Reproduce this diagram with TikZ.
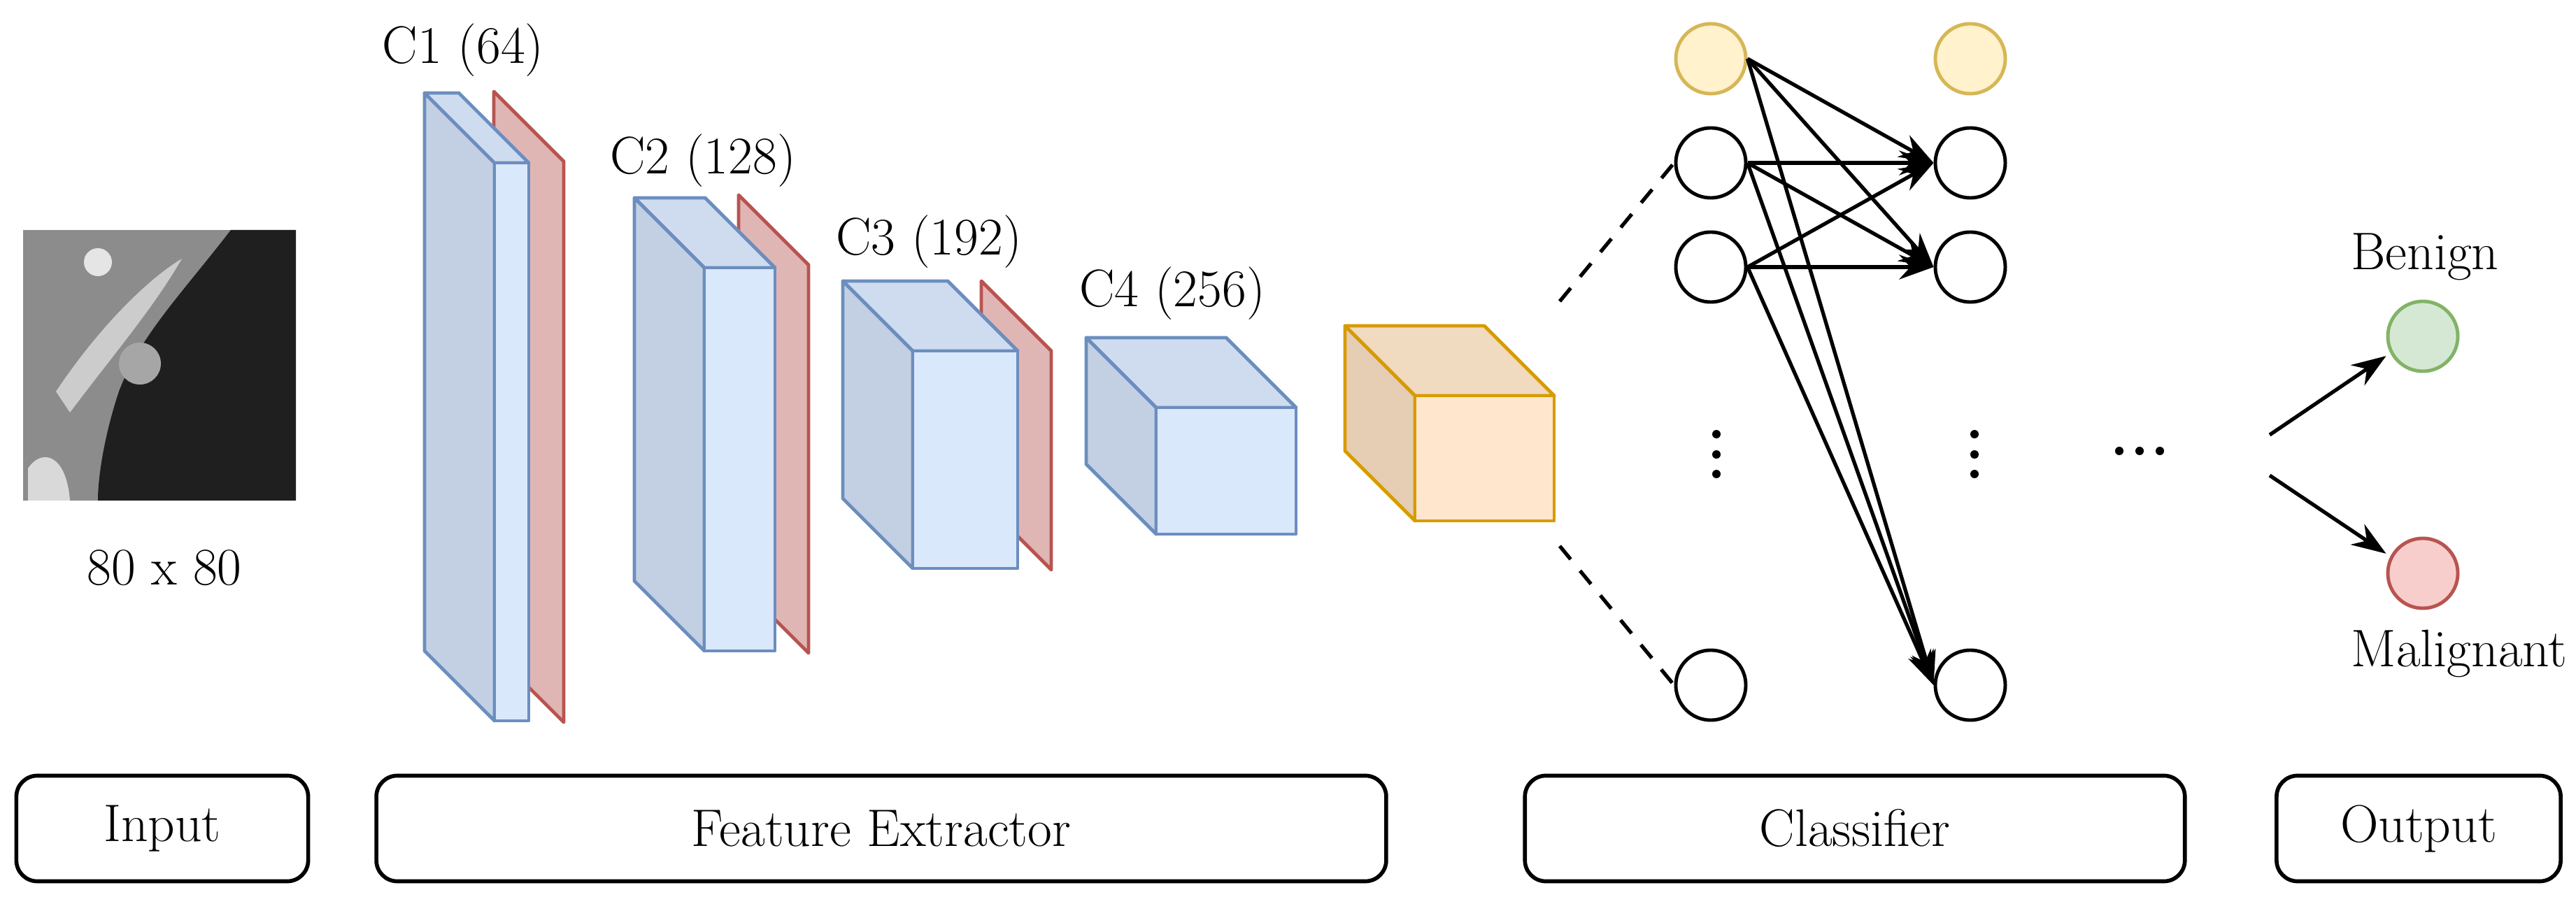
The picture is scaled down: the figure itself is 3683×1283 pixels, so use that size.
\documentclass[tikz,border=0pt]{standalone}
\usetikzlibrary{arrows.meta}
\definecolor{bfront}{HTML}{DAE8FC}\definecolor{bside}{HTML}{C3D0E3}\definecolor{btop}{HTML}{CFDCF0}\definecolor{bdraw}{HTML}{6C8EBF}
\definecolor{rfill}{HTML}{E0B6B5}\definecolor{rdraw}{HTML}{B85450}
\definecolor{ofront}{HTML}{FFE6CC}\definecolor{oside}{HTML}{E6CEB4}\definecolor{otop}{HTML}{F0DAC0}\definecolor{odraw}{HTML}{D79B00}
\definecolor{yfill}{HTML}{FFF2CC}\definecolor{ydraw}{HTML}{D6B656}
\definecolor{gfill}{HTML}{D5E8D4}\definecolor{gdraw}{HTML}{82B366}
\definecolor{pfill}{HTML}{F8CECC}
% box: bx, by, w, h, side, top, front, draw
\newcommand\cubeblk[8]{%
 \filldraw[fill=#5,draw=#8,line width=1.4pt,line join=round] (#1,#2)--++(100,100)--++(0,#4)--++(-100,-100)--cycle;
 \filldraw[fill=#6,draw=#8,line width=1.4pt,line join=round] (#1,#2)--++(#3,0)--++(100,100)--++(-#3,0)--cycle;
 \filldraw[fill=#7,draw=#8,line width=1.4pt,line join=round] (#1+100,#2+100) rectangle ++(#3,#4);}
\newcommand\redplane[3]{% fr, top, bottom(front)
 \filldraw[fill=rfill,draw=rdraw,line width=1.4pt,line join=round] (#1-50,#2)--++(100,100)--(#1+50,#3+3)--++(-100,-100)--cycle;}
\begin{document}
\begin{tikzpicture}[x=0.01cm,y=-0.01cm,font=\fontsize{21.5}{25}\selectfont,
 neuron/.style={circle,draw=black,line width=1.4pt,minimum size=1cm,inner sep=0pt},
 bias/.style={neuron,fill=yfill,draw=ydraw},
 stage/.style={draw,line width=1.6pt,rounded corners=0.3cm,inner sep=0pt,minimum height=1.51cm},
 conn/.style={line width=1.5pt,-{Stealth[length=14pt,width=10pt]}},
 dots/.style={line width=1.5pt,dashed,dash pattern=on 7pt off 6pt},
 dot/.style={circle,fill=black,inner sep=0pt,minimum size=0.12cm}]
\useasboundingbox (0,0) rectangle (3683,1283);
% input image (approximation)
\fill[black!45] (33,329) rectangle (423,716);
\fill[black!88] (423,329) -- (330,329) .. controls (260,420) and (200,480) .. (170,560) .. controls (150,620) and (140,680) .. (140,716) -- (423,716) -- cycle;
\fill[black!20] (80,560) .. controls (140,470) and (210,400) .. (260,370) .. controls (220,440) and (160,510) .. (100,590) -- cycle;
\fill[black!10] (140,375) circle (20);
\fill[black!35] (200,520) circle (30);
\fill[black!15] (40,716) -- (40,670) .. controls (60,640) and (95,650) .. (100,716) -- cycle;
\node (img) at (228,522) [minimum width=3.9cm,minimum height=3.87cm] {};
\node (isz) at (235,812) {80 x 80};
% feature extractor
\redplane{756}{131}{1030}
\cubeblk{607}{133}{49}{798}{bside}{btop}{bfront}{bdraw}
\redplane{1106}{279}{931}
\cubeblk{907}{283}{101}{548}{bside}{btop}{bfront}{bdraw}
\redplane{1453}{402}{812}
\cubeblk{1205}{402}{150}{311}{bside}{btop}{bfront}{bdraw}
\cubeblk{1553}{483}{200}{181}{bside}{btop}{bfront}{bdraw}
\cubeblk{1923}{466}{199}{179}{oside}{otop}{ofront}{odraw}
\node (c1) at (662,72) {C1 (64)};
\node (c2) at (1005,230) {C2 (128)};
\node (c3) at (1328,346) {C3 (192)};
\node (c4) at (1676,420) {C4 (256)};
% classifier
\node[bias] (b1) at (2446,84) {};
\node[neuron] (a1) at (2446,233) {};
\node[neuron] (a2) at (2446,382) {};
\node[neuron] (an) at (2446,980) {};
\node[bias] (b2) at (2817,84) {};
\node[neuron] (h1) at (2817,233) {};
\node[neuron] (h2) at (2817,382) {};
\node[neuron] (hn) at (2817,980) {};
\coordinate (d1) at (2230,431);
\coordinate (d2) at (2230,781);
\draw[dots] (d1) -- (a1.west);
\draw[dots] (d2) -- (an.west);
\foreach \s in {b1,a1,a2}{\foreach \t in {h1,h2,hn}{\draw[conn] (\s.east) -- (\t.west);}}
\foreach \y [count=\i] in {621,650,678}{
 \node[dot] (va\i) at (2454,\y) {};
 \node[dot] (vb\i) at (2823,\y) {};}
\foreach \x [count=\i] in {3030,3059,3088}{\node[dot] (hd\i) at (\x,645) {};}
% output
\node[neuron,fill=gfill,draw=gdraw] (o1) at (3464,481) {};
\node[neuron,fill=pfill,draw=rdraw] (o2) at (3464,820) {};
\node (ben) at (3467,367) {Benign};
\node (mal) at (3516,935) {Malignant};
\coordinate (s1) at (3245,622);
\coordinate (s2) at (3245,680);
\draw[conn] (s1) -- ([yshift=-8pt]o1.west);
\draw[conn] (s2) -- ([yshift=8pt]o2.west);
% stages
\node[stage,minimum width=4.17cm] (in) at (232,1185) {Input};
\node[stage,minimum width=14.43cm] (fe) at (1260,1185) {Feature Extractor};
\node[stage,minimum width=9.43cm] (cl) at (2652,1185) {Classifier};
\node[stage,minimum width=4.06cm] (out) at (3458,1185) {Output};
\end{tikzpicture}
\end{document}
